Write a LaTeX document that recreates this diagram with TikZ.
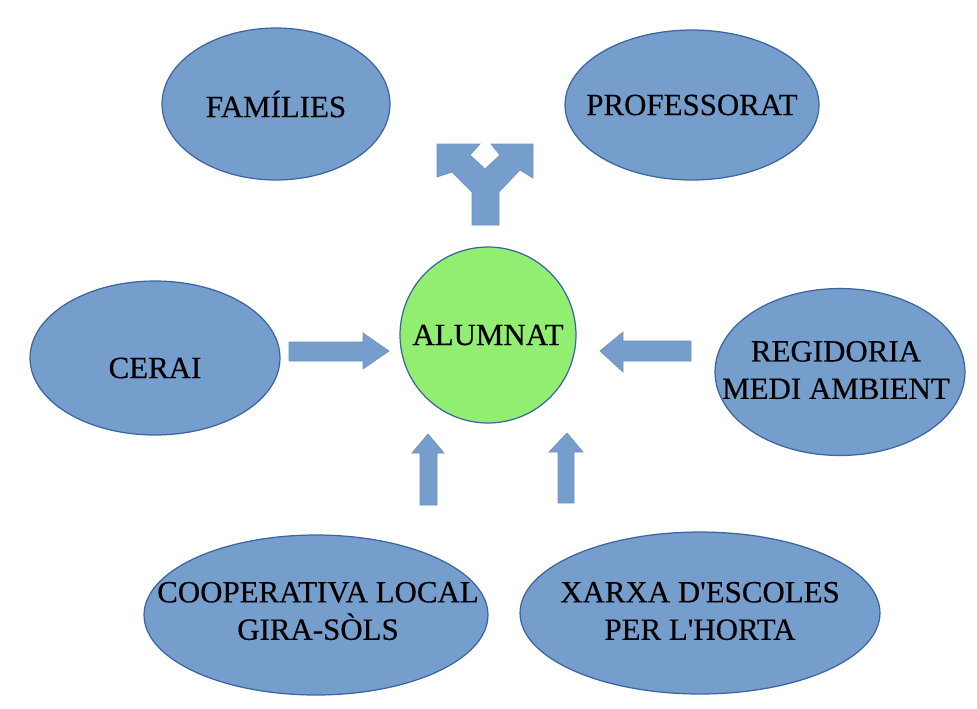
\documentclass[tikz,border=0pt]{standalone}
\usepackage{fontspec}
\setmainfont{Liberation Serif}[FakeBold=0.4]
\usetikzlibrary{shapes.geometric}
\definecolor{bfill}{RGB}{117,158,204}
\definecolor{bline}{RGB}{60,100,160}
\definecolor{gfill}{RGB}{146,238,112}
\tikzset{
  oval/.style={ellipse, draw=bline, fill=bfill, line width=0.7pt, inner sep=0pt},
  lbl/.style={align=center, inner sep=0pt, font=\fontsize{17.6}{21.3}\selectfont},
  blockarrow/.style={fill=bfill, draw=bline!70, line width=0.4pt, line join=miter},
}
\begin{document}
\begin{tikzpicture}[x=0.02cm,y=-0.02cm]
\useasboundingbox[fill=white] (0,0) rectangle (977,708);
% ellipses
\node[oval, minimum width=4.56cm, minimum height=3.04cm] (fam) at (276,104) {};
\node[lbl] (famtxt) at (fam.center) {FAMÍLIES};
\node[oval, minimum width=5.08cm, minimum height=3.0cm] (prof) at (692,105) {};
\node[lbl] (proftxt) at (prof.center) {PROFESSORAT};
\node[oval, minimum width=5.0cm, minimum height=3.08cm] (cerai) at (155,358) {};
\node[lbl] (ceraitxt) at (155,368) {CERAI};
\node[oval, minimum width=5.0cm, minimum height=3.34cm] (regi) at (840,372) {};
\node[lbl] (regitxt) at (836,370) {REGIDORIA\\MEDI AMBIENT};
\node[oval, minimum width=6.88cm, minimum height=3.2cm] (coop) at (316,615) {};
\node[lbl] (cooptxt) at (318,611) {COOPERATIVA LOCAL\\GIRA-SÒLS};
\node[oval, minimum width=7.2cm, minimum height=3.24cm] (xarxa) at (700,613) {};
\node[lbl] (xarxatxt) at (700,611) {XARXA D\textquotesingle ESCOLES\\PER L\textquotesingle HORTA};
\node[circle, draw=bline, fill=gfill, line width=0.7pt, minimum size=3.52cm, inner sep=0pt] (alum) at (488,335) {};
\node[lbl] (alumtxt) at (alum.center) {ALUMNAT};
% block arrows
\draw[blockarrow] (289,342) -- (363,342) -- (363,333) -- (389,351) -- (363,369) -- (363,361) -- (289,361) -- cycle;
\draw[blockarrow] (691,341) -- (623,341) -- (623,332) -- (600,351) -- (623,372) -- (623,361) -- (691,361) -- cycle;
\draw[blockarrow] (420,505) -- (420,453) -- (412,453) -- (428,434) -- (444,453) -- (437,453) -- (437,505) -- cycle;
\draw[blockarrow] (558,503) -- (558,452) -- (549,452) -- (567,433) -- (583,452) -- (574,452) -- (574,503) -- cycle;
\draw[blockarrow] (472,225) -- (472,192) -- (452,172) -- (437,177) -- (437,144) -- (480,144) -- (470,155)
  -- (485,169) -- (500,155) -- (491,144) -- (533,144) -- (533,178) -- (520,170) -- (499,192) -- (499,225) -- cycle;
\end{tikzpicture}
\end{document}
